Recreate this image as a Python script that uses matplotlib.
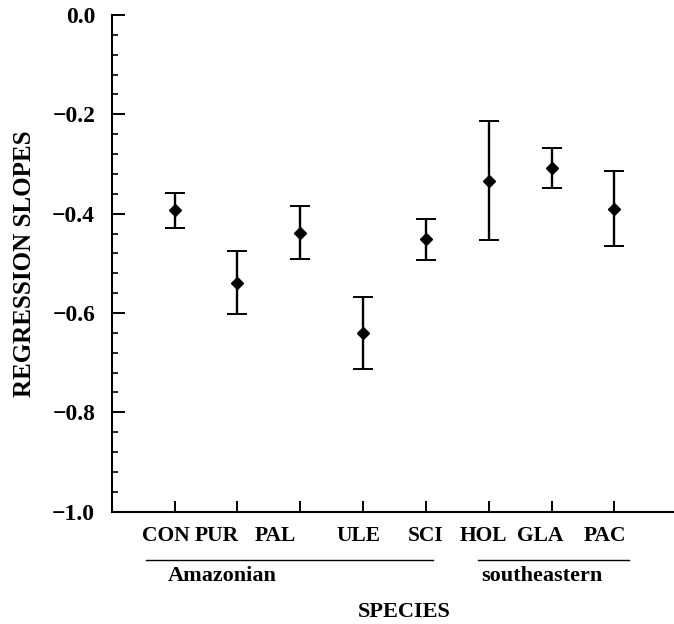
import matplotlib.pyplot as plt
from matplotlib.ticker import MultipleLocator

species = ["CON", "PUR", "PAL", "ULE", "SCI", "HOL", "GLA", "PAC"]
slopes = [-0.393, -0.540, -0.439, -0.640, -0.452, -0.334, -0.308, -0.390]
upper = [-0.358, -0.475, -0.385, -0.567, -0.411, -0.214, -0.267, -0.315]
lower = [-0.429, -0.602, -0.492, -0.712, -0.493, -0.453, -0.349, -0.465]

groups = ["Amazonian", "southeastern"]
group_span = [(0.55, 5.12), (5.83, 8.23)]
group_text_x = [1.76, 6.85]

# labels in the original are typeset as one line, a little off their ticks
label_shift_pt = [-6, -15, -18, -3.6, 0, -3.6, -8, -7]

plt.rcParams["font.family"] = ["Liberation Serif", "DejaVu Serif"]
plt.rcParams["font.weight"] = "bold"

fig = plt.figure(figsize=(6.74, 6.24), dpi=100)
ax = fig.add_axes([0.166, 0.180, 0.834, 0.796])

x = list(range(1, len(species) + 1))
err_lo = [s - l for s, l in zip(slopes, lower)]
err_hi = [u - s for s, u in zip(slopes, upper)]

ax.errorbar(x, slopes, yerr=[err_lo, err_hi], fmt="D", color="black",
            markersize=6, elinewidth=1.7, capsize=7, capthick=1.4)

ax.set_xlim(0, 8.95)
ax.set_ylim(-1.0, 0.0)
ax.yaxis.set_minor_locator(MultipleLocator(0.04))
ax.set_yticks([-1.0, -0.8, -0.6, -0.4, -0.2, 0.0])
ax.set_yticklabels(["\u22121.0", "\u22120.8", "\u22120.6", "\u22120.4", "\u22120.2", "0.0"])
ax.set_xticks(x)
ax.set_xticklabels([])

trans = ax.get_xaxis_transform()
for xi, name, dx in zip(x, species, label_shift_pt):
    ax.annotate(name, xy=(xi, 0), xycoords=trans, xytext=(dx, -17.2),
                textcoords="offset points", ha="center", va="center",
                fontsize=15.5, fontweight="bold", annotation_clip=False)

for side in ["top", "right"]:
    ax.spines[side].set_visible(False)
for side in ["left", "bottom"]:
    ax.spines[side].set_linewidth(1.5)

ax.tick_params(axis="y", which="major", direction="in", length=9, width=1.4,
               pad=12, labelsize=17)
ax.tick_params(axis="y", which="minor", direction="in", length=4.5, width=1.2)
ax.tick_params(axis="x", which="major", direction="in", length=8, width=1.4)

ax.set_ylabel("REGRESSION SLOPES", fontsize=18, fontweight="bold", labelpad=12)

for name, (x0, x1), tx in zip(groups, group_span, group_text_x):
    ax.plot([x0, x1], [-0.097, -0.097], color="black", linewidth=1.0,
            transform=trans, clip_on=False)
    ax.text(tx, -0.130, name, transform=trans, ha="center", va="center",
            fontsize=16, fontweight="bold")

ax.text(0.52, -0.202, "SPECIES", transform=ax.transAxes, ha="center",
        va="center", fontsize=16, fontweight="bold")

fig.savefig("out.png", dpi=100)
